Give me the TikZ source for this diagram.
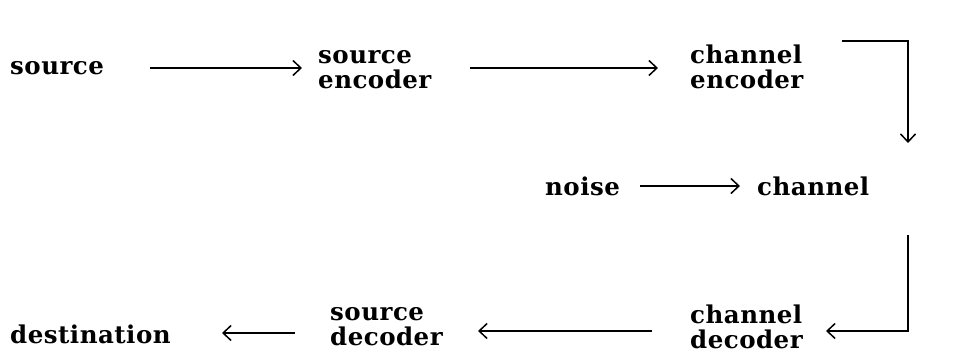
\documentclass[tikz,border=0pt]{standalone}
\usepackage{fontspec}
\setmainfont[LetterSpace=2]{DejaVu Serif}
\usetikzlibrary{arrows.meta}
\tikzset{
  lbl/.style={font=\fontsize{24.5}{25}\selectfont\bfseries, inner sep=0pt, anchor=west, align=left},
  arr/.style={line width=1.5pt, -{Straight Barb[length=8pt,width=15pt,line width=1.5pt]}},
  ln/.style={line width=1.5pt}
}
\begin{document}
\begin{tikzpicture}[x=1pt,y=-1pt]
\useasboundingbox (0,0) rectangle (973,359);
\node[lbl] (source) at (10,68) {source};
\node[lbl] (senc) at (318,70) {source\\encoder};
\node[lbl] (cenc) at (690,67) {channel\\encoder};
\node[lbl] (noise) at (545,186) {noise};
\node[lbl] (chan) at (757,186) {channel};
\node[lbl] (cdec) at (690,327) {channel\\decoder};
\node[lbl] (sdec) at (330,327) {source\\decoder};
\node[lbl] (dest) at (10,334) {destination};
% connector end points
\coordinate (a1s) at (150,68);  \coordinate (a1e) at (302,68);
\coordinate (a2s) at (470,68);  \coordinate (a2e) at (658,68);
\coordinate (c1) at (842,41);   \coordinate (c2) at (908,41);   \coordinate (c3) at (908,143);
\coordinate (n1) at (640,186);  \coordinate (n2) at (740,186);
\coordinate (d1) at (908,235);  \coordinate (d2) at (908,331);  \coordinate (d3) at (826,331);
\coordinate (b1s) at (652,331); \coordinate (b1e) at (478,331);
\coordinate (b2s) at (295,333); \coordinate (b2e) at (222,333);
\draw[arr] (a1s) -- (a1e);
\draw[arr] (a2s) -- (a2e);
\draw[arr] (c1) -- (c2) -- (c3);
\draw[arr] (n1) -- (n2);
\draw[arr] (d1) -- (d2) -- (d3);
\draw[arr] (b1s) -- (b1e);
\draw[arr] (b2s) -- (b2e);
\end{tikzpicture}
\end{document}
